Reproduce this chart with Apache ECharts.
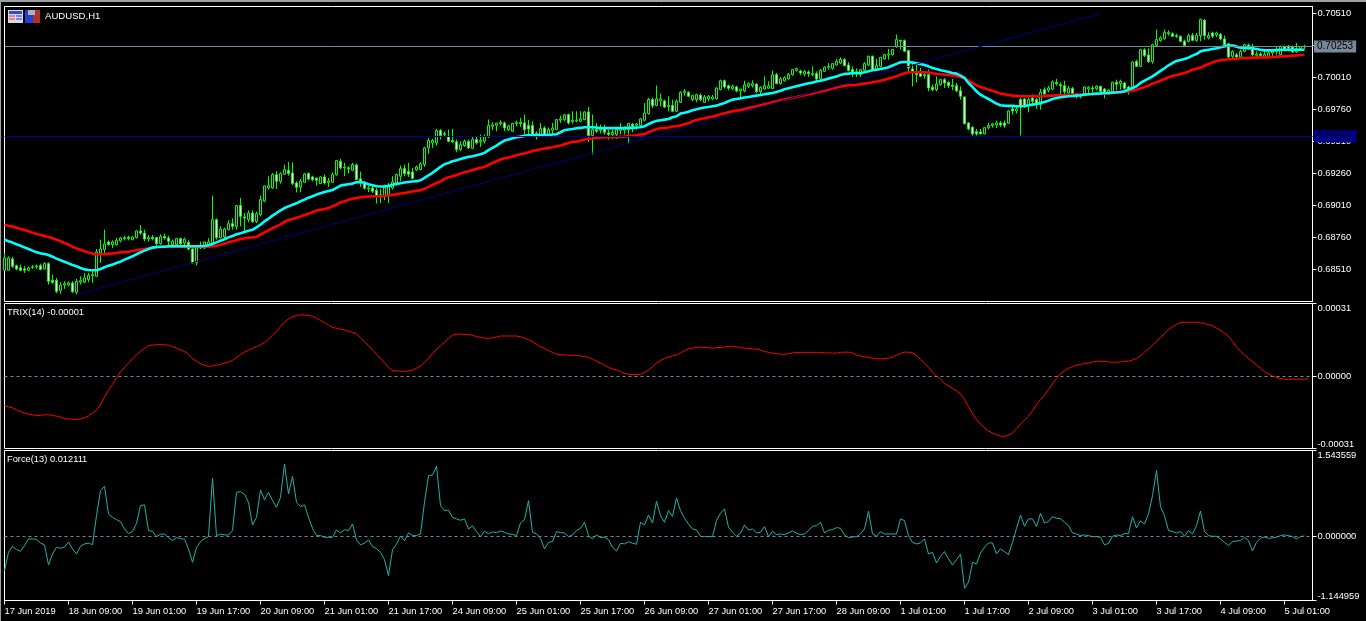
<!DOCTYPE html>
<html><head><meta charset="utf-8"><style>html,body{margin:0;padding:0;background:#000;overflow:hidden}#c{width:1366px;height:621px}</style>
<script src="https://cdn.jsdelivr.net/npm/echarts@6/dist/echarts.min.js"></script></head><body><div id="c"></div><script>
// AUDUSD H1 prices are kept in points (1 point = 0.00001)
const opens=[68505,68505,68593,68541,68525,68515,68505,68525,68533,68541,68515,68557,68426,68426,68348,68390,68390,68406,68333,68411,68411,68432,68463,68458,68640,68666,68726,68705,68705,68734,68752,68762,68744,68760,68812,68796,68749,68762,68760,68713,68768,68757,68705,68705,68752,68718,68723,68671,68562,68679,68679,68705,68697,68900,68760,68765,68822,68869,68848,69010,68921,68900,68952,68885,68939,69046,69148,69148,69252,69200,69255,69286,69265,69187,69153,69192,69260,69234,69223,69182,69234,69192,69192,69250,69357,69305,69305,69286,69328,69219,69187,69141,69148,69130,69078,69089,69094,69148,69182,69240,69299,69276,69273,69289,69292,69331,69461,69500,69500,69596,69565,69552,69518,69508,69448,69479,69510,69458,69526,69508,69513,69547,69630,69638,69651,69656,69602,69591,69651,69659,69656,69635,69635,69573,69565,69617,69565,69599,69604,69677,69682,69721,69667,69672,69669,69682,69742,69557,69604,69599,69609,69578,69565,69565,69599,69599,69604,69646,69638,69635,69677,69729,69839,69792,69828,69828,69784,69792,69747,69817,69895,69895,69838,69838,69872,69817,69843,69843,69843,69916,69986,69947,69924,69937,69906,69906,69942,69947,69960,69901,69921,69927,69924,70033,69963,69984,70000,70033,70067,70062,70039,70054,70033,70041,70000,70059,70091,70083,70109,70124,70150,70109,70072,70046,70033,70067,70109,70177,70072,70098,70156,70187,70190,70255,70302,70299,70221,70078,70052,70046,70033,70033,69934,69916,69955,69994,69973,69950,69947,69908,69859,69656,69622,69588,69585,69570,69619,69635,69640,69656,69656,69653,69765,69749,69838,69843,69799,69851,69838,69799,69916,69911,69921,69973,69955,69947,69890,69926,69882,69864,69877,69921,69929,69924,69942,69921,69890,69900,69973,69963,69968,69937,69921,70135,70098,70228,70187,70135,70262,70299,70312,70353,70353,70338,70333,70294,70294,70338,70301,70338,70457,70320,70359,70343,70346,70312,70275,70176,70189,70171,70215,70265,70254,70184,70195,70176,70176,70202,70215,70189,70254,70257,70249,70210,70236,70249];
const closes=[68601,68601,68536,68515,68505,68505,68523,68531,68538,68510,68557,68419,68411,68340,68390,68400,68406,68338,68419,68424,68445,68466,68471,68648,68671,68710,68705,68726,68739,68757,68760,68754,68765,68812,68796,68749,68760,68752,68713,68768,68757,68731,68731,68752,68713,68749,68671,68562,68679,68697,68726,68726,68900,68760,68827,68827,68869,68848,69010,68926,68913,68952,68885,68947,69057,69164,69166,69252,69200,69260,69291,69260,69182,69153,69200,69257,69218,69213,69208,69234,69187,69202,69252,69362,69305,69312,69297,69331,69214,69187,69146,69148,69122,69089,69096,69156,69161,69195,69253,69299,69260,69255,69224,69312,69336,69461,69518,69518,69596,69557,69573,69513,69508,69448,69487,69513,69461,69526,69500,69518,69547,69635,69641,69654,69659,69617,69633,69651,69661,69651,69604,69609,69557,69547,69612,69565,69604,69615,69682,69687,69719,69656,69677,69677,69687,69742,69557,69604,69591,69609,69583,69565,69583,69604,69612,69617,69651,69630,69648,69687,69734,69839,69792,69844,69844,69781,69792,69747,69825,69895,69903,69864,69869,69877,69838,69859,69864,69859,69929,69986,69937,69927,69942,69906,69921,69953,69963,69963,69901,69932,69947,69945,70033,69963,70000,70010,70036,70072,70080,70046,70059,70041,70041,70000,70067,70091,70098,70119,70137,70153,70104,70067,70052,70057,70072,70119,70177,70072,70104,70169,70190,70195,70229,70307,70294,70216,70085,70059,70033,70020,70026,69929,69916,69960,69994,69968,69947,69942,69908,69864,69651,69609,69570,69570,69570,69619,69635,69648,69656,69640,69635,69749,69749,69765,69791,69791,69838,69825,69799,69895,69882,69929,69976,69963,69947,69900,69926,69885,69869,69874,69937,69934,69921,69942,69903,69890,69911,69973,69958,69981,69926,69921,70132,70098,70228,70182,70135,70267,70307,70320,70364,70364,70333,70333,70294,70260,70338,70301,70340,70463,70338,70338,70333,70359,70312,70267,70171,70215,70171,70215,70267,70239,70189,70195,70182,70189,70202,70215,70228,70254,70234,70239,70210,70236,70252,70253];
const lows=[68505,68505,68523,68505,68497,68484,68497,68515,68515,68505,68510,68393,68400,68327,68322,68359,68380,68327,68314,68393,68406,68411,68406,68453,68562,68640,68697,68679,68697,68723,68739,68739,68739,68754,68783,68731,68728,68739,68697,68705,68744,68697,68679,68679,68697,68697,68661,68557,68544,68671,68671,68692,68697,68744,68754,68749,68817,68822,68822,68848,68796,68880,68874,68874,68926,69036,69135,69140,69140,69182,69252,69244,69171,69114,69114,69192,69208,69200,69166,69182,69174,69156,69187,69244,69292,69240,69260,69279,69208,69156,69135,69115,69109,69026,69031,69052,69031,69135,69167,69201,69240,69234,69214,69279,69286,69312,69414,69461,69479,69526,69547,69505,69500,69427,69435,69469,69453,69453,69487,69469,69495,69539,69599,69591,69635,69591,69594,69586,69630,69625,69557,69547,69547,69526,69557,69552,69557,69565,69599,69656,69669,69643,69651,69661,69661,69677,69505,69409,69578,69573,69565,69526,69531,69531,69565,69565,69495,69583,69604,69630,69669,69721,69773,69786,69786,69773,69747,69740,69740,69812,69869,69859,69825,69817,69825,69812,69825,69833,69838,69911,69924,69911,69911,69895,69851,69895,69929,69932,69890,69869,69916,69924,69921,69958,69955,69979,69994,70025,70057,70031,70020,70015,70020,69981,69994,70054,70072,70072,70104,70114,70098,70057,70015,70015,70015,70059,70098,70067,70067,70093,70150,70150,70182,70242,70229,70210,70059,69942,69973,70015,70000,69903,69903,69903,69947,69929,69929,69911,69895,69838,69643,69598,69557,69557,69565,69565,69604,69619,69617,69625,69617,69651,69721,69729,69557,69773,69739,69799,69765,69760,69877,69895,69911,69947,69877,69869,69885,69877,69848,69848,69869,69885,69890,69911,69890,69848,69877,69890,69911,69916,69916,69877,69916,70093,70093,70171,70124,70119,70254,70291,70307,70338,70327,70320,70286,70254,70286,70294,70291,70294,70307,70307,70320,70327,70301,70254,70156,70163,70163,70163,70208,70228,70176,70171,70171,70171,70171,70176,70189,70182,70215,70215,70202,70202,70215,70234];
const highs=[68640,68614,68609,68549,68549,68536,68536,68546,68549,68557,68567,68567,68471,68445,68411,68419,68419,68419,68437,68458,68484,68484,68497,68671,68744,68822,68739,68739,68757,68765,68775,68775,68770,68817,68859,68822,68780,68780,68765,68786,68791,68775,68744,68757,68760,68760,68739,68687,68687,68729,68729,68755,69088,68911,68848,68838,68895,68911,69015,69070,68952,68973,68973,68963,69088,69166,69239,69265,69278,69270,69330,69351,69348,69200,69218,69265,69270,69244,69234,69239,69252,69226,69270,69364,69375,69344,69318,69344,69339,69276,69200,69167,69167,69148,69141,69174,69187,69240,69260,69323,69331,69344,69305,69323,69349,69469,69539,69531,69609,69609,69589,69604,69609,69526,69513,69526,69526,69547,69547,69565,69565,69682,69661,69656,69677,69667,69641,69656,69674,69695,69721,69680,69669,69591,69656,69630,69620,69656,69687,69713,69724,69729,69747,69747,69747,69747,69781,69721,69656,69643,69643,69604,69604,69617,69656,69630,69656,69656,69656,69693,69812,69852,69852,69948,69885,69838,69865,69838,69838,69903,69921,69903,69877,69885,69885,69874,69874,69874,69934,69994,69994,69955,69955,69947,69921,69986,69973,69989,69963,69942,70020,69981,70065,70046,70015,70020,70046,70078,70088,70072,70067,70067,70098,70059,70078,70098,70124,70124,70156,70169,70163,70130,70098,70083,70078,70130,70182,70182,70156,70171,70195,70234,70234,70346,70302,70307,70229,70137,70111,70085,70059,70072,69955,70020,70000,70007,69981,70000,69968,69942,69864,69661,69630,69609,69609,69625,69656,69656,69674,69671,69674,69755,69786,69781,69851,69851,69851,69877,69851,69921,69934,69947,69989,70000,69973,69986,69947,69937,69890,69885,69942,69942,69947,69950,69947,69929,69921,69978,69994,69994,69978,69947,70137,70150,70234,70239,70239,70275,70385,70333,70385,70379,70364,70353,70338,70307,70353,70359,70359,70471,70468,70364,70369,70369,70359,70338,70281,70223,70202,70228,70275,70275,70273,70215,70208,70215,70215,70234,70249,70260,70260,70265,70260,70281,70254,70267];
const fastMA=[68744,68731,68721,68708,68697,68684,68671,68658,68645,68637,68632,68624,68611,68596,68583,68572,68559,68546,68536,68523,68512,68507,68505,68505,68515,68528,68541,68549,68562,68572,68588,68601,68614,68630,68645,68658,68671,68682,68687,68689,68689,68692,68692,68692,68692,68692,68692,68692,68692,68692,68695,68700,68710,68723,68736,68747,68762,68773,68786,68794,68804,68814,68822,68840,68861,68887,68908,68932,68952,68973,68991,69004,69017,69028,69044,69057,69072,69083,69096,69106,69116,69124,69132,69148,69167,69172,69177,69182,69193,69195,69188,69177,69169,69161,69159,69159,69164,69172,69180,69185,69190,69195,69198,69201,69208,69227,69247,69266,69289,69313,69333,69344,69357,69365,69375,69383,69391,69396,69404,69411,69422,69443,69461,69479,69500,69518,69526,69536,69544,69549,69555,69560,69560,69562,69562,69562,69562,69565,69568,69583,69599,69604,69609,69615,69617,69622,69622,69622,69620,69615,69615,69615,69615,69615,69615,69615,69617,69617,69620,69622,69630,69646,69661,69672,69677,69682,69687,69700,69708,69729,69736,69744,69755,69762,69770,69776,69781,69786,69791,69802,69812,69825,69838,69843,69848,69854,69859,69864,69869,69874,69880,69885,69890,69898,69908,69919,69927,69934,69942,69950,69958,69966,69971,69979,69986,69994,70002,70010,70018,70031,70039,70041,70044,70044,70046,70052,70059,70067,70072,70078,70083,70091,70104,70117,70130,70132,70132,70127,70122,70117,70109,70098,70085,70078,70067,70062,70054,70046,70041,70025,70007,69968,69937,69903,69877,69859,69843,69825,69807,69794,69791,69789,69789,69786,69786,69788,69794,69799,69804,69812,69820,69830,69843,69851,69856,69861,69864,69866,69869,69872,69877,69880,69882,69885,69887,69890,69890,69893,69895,69898,69903,69916,69929,69942,69968,69986,70002,70020,70041,70062,70083,70106,70124,70140,70148,70155,70166,70182,70194,70215,70223,70228,70234,70239,70247,70254,70260,70260,70252,70244,70241,70239,70239,70234,70228,70223,70223,70223,70226,70228,70228,70228,70228,70228,70228,70228];
const slowMA=[68861,68853,68846,68838,68827,68820,68809,68799,68788,68781,68773,68765,68755,68744,68731,68718,68705,68689,68676,68666,68653,68643,68635,68630,68630,68630,68635,68637,68640,68645,68648,68650,68656,68661,68666,68671,68676,68679,68684,68687,68689,68689,68689,68689,68689,68689,68689,68689,68689,68689,68689,68689,68692,68697,68705,68713,68723,68731,68739,68749,68755,68760,68762,68765,68783,68801,68817,68833,68848,68864,68882,68898,68906,68916,68926,68937,68947,68958,68971,68978,68984,68991,69004,69017,69036,69044,69055,69063,69070,69076,69078,69081,69083,69083,69083,69086,69089,69094,69099,69104,69109,69115,69120,69125,69130,69141,69156,69172,69187,69198,69219,69232,69240,69250,69260,69271,69279,69289,69297,69305,69312,69328,69344,69357,69370,69380,69385,69393,69404,69411,69417,69427,69437,69443,69450,69456,69461,69466,69474,69479,69490,69500,69508,69510,69516,69526,69531,69534,69539,69542,69544,69544,69547,69547,69547,69549,69555,69557,69560,69565,69570,69583,69596,69609,69615,69617,69620,69628,69630,69635,69645,69653,69669,69679,69687,69692,69700,69705,69713,69723,69731,69739,69747,69752,69757,69765,69773,69781,69786,69794,69802,69810,69817,69825,69833,69838,69846,69851,69859,69867,69872,69880,69885,69893,69901,69908,69916,69924,69932,69940,69947,69950,69950,69953,69958,69963,69968,69973,69979,69986,69994,70002,70010,70020,70033,70044,70052,70052,70052,70052,70052,70049,70044,70039,70036,70033,70031,70028,70020,70015,70005,69986,69968,69950,69937,69927,69916,69908,69895,69885,69880,69874,69869,69867,69864,69864,69864,69864,69864,69864,69866,69869,69869,69872,69872,69874,69874,69877,69877,69877,69877,69880,69880,69882,69882,69885,69887,69890,69893,69895,69898,69903,69908,69916,69926,69937,69947,69963,69973,69986,69999,70012,70023,70030,70038,70046,70057,70072,70080,70088,70103,70116,70129,70140,70145,70150,70153,70155,70158,70161,70163,70163,70166,70166,70168,70168,70168,70171,70174,70176,70176,70179,70182,70184,70187,70189];
// TRIX(14), in millionths
const trixValues=[-126,-132,-136,-145,-152,-158,-163,-166,-169,-168,-166,-166,-168,-172,-176,-182,-183,-185,-186,-183,-178,-172,-158,-146,-123,-89,-60,-36,-7,17,37,56,73,90,105,118,129,132,134,134,134,132,125,119,112,105,92,75,63,53,45,42,43,46,49,55,60,66,80,92,102,111,118,125,134,142,158,175,191,211,231,244,253,258,261,261,258,256,247,238,228,218,208,204,200,197,192,187,180,164,146,131,112,93,75,56,37,23,22,20,20,22,25,33,43,59,75,95,115,128,144,162,175,178,180,178,177,174,169,165,162,162,162,167,171,171,171,171,171,168,162,155,148,136,126,118,109,101,93,92,90,89,89,88,86,83,80,72,63,56,46,37,30,26,19,12,7,6,6,7,16,25,40,55,66,75,80,86,90,98,109,116,119,122,124,122,121,119,121,122,124,126,128,125,121,119,118,116,115,111,105,101,98,95,93,93,96,99,101,101,101,101,101,101,101,99,99,98,98,101,102,102,98,90,85,82,79,76,75,73,75,76,80,89,96,102,102,99,88,70,56,37,16,0,-14,-31,-43,-53,-64,-77,-100,-132,-160,-186,-206,-221,-235,-244,-251,-257,-258,-254,-244,-225,-206,-189,-172,-148,-123,-100,-82,-57,-34,-10,9,23,33,40,47,50,53,56,60,63,63,62,60,59,59,60,62,63,68,75,86,102,115,132,148,165,181,198,210,220,228,230,230,230,230,227,224,220,215,205,195,184,169,148,124,105,90,75,62,47,33,19,9,0,-6,-11,-14,-14,-14,-14,-14,-14,-10];
// Force(13)
const forceValues=[-0.609,-0.281,-0.173,-0.233,-0.263,-0.161,-0.042,-0.042,-0.048,-0.114,-0.149,-0.508,-0.311,-0.191,-0.209,-0.185,-0.096,-0.221,-0.311,-0.173,-0.131,-0.119,-0.143,0.376,0.824,0.902,0.406,0.346,0.305,0.269,0.137,0.054,0.09,0.239,0.556,0.568,0.108,0.096,0,0.042,0.048,-0.018,-0.072,-0.018,-0.036,-0.048,-0.221,-0.46,-0.197,-0.09,-0.036,0,1.051,0.018,0.048,0.03,0.03,0.108,0.795,0.806,0.759,0.615,0.209,0.346,0.836,0.663,0.795,0.645,0.526,0.705,1.302,0.765,1.081,0.615,0.538,0.568,0.346,0.149,0.018,0.018,-0.012,-0.012,-0.012,0.119,0.066,0.125,0.108,0.227,-0.06,-0.149,-0.114,-0.06,-0.179,-0.215,-0.281,-0.412,-0.699,-0.233,-0.137,0.012,-0.072,0.066,0.018,0.018,0.048,0.615,1.093,1.105,1.261,0.556,0.466,0.478,0.346,0.317,0.293,0.317,0.137,0.191,0.09,0,0.096,0.054,0.084,0.072,0.102,0.078,0.048,0.042,0.018,0.245,0.305,0.645,0.078,0.048,-0.03,-0.221,-0.102,-0.09,0.09,0.072,0.066,0,0.03,0.108,0.149,0.257,0.018,-0.042,0.03,-0.018,-0.012,-0.054,-0.191,-0.257,-0.119,-0.131,-0.09,-0.119,-0.137,0.257,0.209,0.388,0.245,0.633,0.376,0.257,0.466,0.364,0.693,0.466,0.329,0.227,0.137,0.119,0.006,0,0,0,0.287,0.418,0.496,0.167,0.078,0.006,0.06,0.209,0.119,0.137,0.066,0.078,0.179,0,0.096,0.036,0.048,0.036,0.066,0.102,0.06,0.036,0.048,0.108,0.185,0.197,0.257,0.066,0.114,0.125,0.161,0.149,0.03,-0.018,-0.006,0,0.048,0.137,0.454,0.048,0.006,0.09,0.048,0.048,0.048,0.048,0.317,0.287,0.018,-0.102,-0.131,-0.114,-0.042,-0.311,-0.281,-0.472,-0.352,-0.269,-0.4,-0.508,-0.412,-0.311,-0.926,-0.818,-0.46,-0.49,-0.293,-0.191,-0.114,-0.114,-0.311,-0.221,-0.269,-0.323,-0.102,0.149,0.388,0.185,0.317,0.317,0.179,0.418,0.245,0.269,0.358,0.329,0.323,0.257,0.197,0.066,0.048,0.018,0.03,0.018,0,0,-0.012,-0.149,-0.119,0.006,0.03,0.018,0.054,0.054,0.358,0.155,0.281,0.227,0.406,0.735,1.183,0.538,0.376,0.108,0.09,0.066,0.09,0.006,0.108,0.048,0.197,0.46,0.09,0.018,0.006,0.006,-0.042,-0.102,-0.161,-0.09,-0.078,-0.072,-0.012,-0.072,-0.257,-0.102,-0.03,-0.006,-0.03,-0.024,-0.012,0.018,0.03,0.018,0,-0.042,0,0.012];
const timeLabels=['17 Jun 2019','18 Jun 09:00','19 Jun 01:00','19 Jun 17:00','20 Jun 09:00','21 Jun 01:00','21 Jun 17:00','24 Jun 09:00','25 Jun 01:00','25 Jun 17:00','26 Jun 09:00','27 Jun 01:00','27 Jun 17:00','28 Jun 09:00','1 Jul 01:00','1 Jul 17:00','2 Jul 09:00','3 Jul 01:00','3 Jul 17:00','4 Jul 09:00','5 Jul 01:00'];
const priceTicks=[0.6851,0.6876,0.6901,0.6926,0.6951,0.6976,0.7001,0.7026,0.7051];
const trixTicks=[-0.00031,0,0.00031];
const forceTicks=[-1.144959,0,1.543559];
const bidLine=0.70253, levelLine=0.69552;
const trendStart=[18,0.68315], trendEnd=[274,0.7051];

const slots=328, every=16;
const categories=Array.from({length:slots},(_,i)=>String(i));
const FONT='"Liberation Sans"', FS=9.3;
const price=p=>p/100000;
const candles=opens.map((o,i)=>[price(o),price(closes[i]),price(lows[i]),price(highs[i])]);
const grids=[{left:4.5,width:1308,top:6.5,height:295},{left:4.5,width:1308,top:303.5,height:145},{left:4.5,width:1308,top:450.5,height:150}]
  .map(g=>({...g,show:true,backgroundColor:'#000',borderColor:'#fff',borderWidth:1,containLabel:false}));
const xAxis=grids.map((g,k)=>({type:'category',gridIndex:k,position:'bottom',data:categories,boundaryGap:false,
  axisLine:{show:k==2,onZero:false,lineStyle:{color:'#fff'}},
  axisTick:{show:k==2,interval:every-1,length:4,lineStyle:{color:'#fff'}},
  axisLabel:{show:k==2,interval:every-1,align:'left',margin:6,color:'#fff',fontFamily:FONT,fontSize:FS,
    formatter:(v,i)=>timeLabels[i/every]||''},
  splitLine:{show:false}}));
function yA(k,min,max,ticks,dec){return {type:'value',gridIndex:k,position:'right',min,max,scale:true,
  axisLine:{show:true,lineStyle:{color:'#fff'}},
  axisTick:{show:true,length:4,lineStyle:{color:'#fff'},customValues:ticks},
  axisLabel:{show:true,margin:5,color:'#fff',fontFamily:FONT,fontSize:FS,customValues:ticks,
    verticalAlignMaxLabel:k?'top':null,verticalAlignMinLabel:k?'bottom':null,
    formatter:v=>v.toFixed(dec)},
  splitLine:{show:false}};}
const yAxis=[yA(0,0.682609,0.705655,priceTicks,5),yA(1,-0.00031,0.00031,trixTicks,5),yA(2,-1.144959,1.543559,forceTicks,6)];
const zeroLine={silent:true,symbol:'none',animation:false,label:{show:false},
  lineStyle:{color:'#778899',width:1,type:[3,3]},data:[{yAxis:0}]};
function tag(v,bg,col){return [{coord:[0,v],lineStyle:{color:col,width:1,type:'solid'},
  label:{show:true,position:'end',distance:1.5,formatter:v.toFixed(5),color:'#000',backgroundColor:bg,
    padding:[1,3],fontFamily:FONT,fontSize:10}},{coord:[slots-1,v]}];}
const series=[
 {type:'line',xAxisIndex:0,yAxisIndex:0,data:[],z:1,silent:true,
  markLine:{silent:true,symbol:'none',animation:false,data:[
    tag(bidLine,'#778899','#778899'),
    tag(levelLine,'#000098','#000098'),
    [{coord:trendStart,lineStyle:{color:'#000080',width:1,type:'solid'},label:{show:false}},{coord:trendEnd}]
  ]}},
 {type:'candlestick',xAxisIndex:0,yAxisIndex:0,data:candles,barWidth:3,z:2,silent:true,
  itemStyle:{color:'#000',color0:'#fff',borderColor:'#00ff00',borderColor0:'#00ff00',borderColorDoji:'#00ff00',borderWidth:1}},
 {type:'line',xAxisIndex:0,yAxisIndex:0,data:slowMA.map(price),showSymbol:false,z:3,silent:true,lineStyle:{color:'#ff0000',width:2.6}},
 {type:'line',xAxisIndex:0,yAxisIndex:0,data:fastMA.map(price),showSymbol:false,z:4,silent:true,lineStyle:{color:'#00ffff',width:2.6}},
 {type:'line',xAxisIndex:1,yAxisIndex:1,data:trixValues.map(v=>v/1e6),showSymbol:false,silent:true,lineStyle:{color:'#ff0000',width:1},markLine:zeroLine},
 {type:'line',xAxisIndex:2,yAxisIndex:2,data:forceValues,showSymbol:false,silent:true,lineStyle:{color:'#20b2aa',width:1},markLine:zeroLine}
];
const txt=(x,y,s,fs)=>({type:'text',x,y,silent:true,style:{text:s,fill:'#fff',font:fs+'px '+FONT,textVerticalAlign:'middle'}});
const r=(x,y,w,h,f)=>({type:'rect',silent:true,shape:{x,y,width:w,height:h},style:{fill:f}});
const graphic=[
 r(0,0,1366,2,'#a0a0a0'),r(0,0,1,621,'#a0a0a0'),
 // chart window icons
 r(8,10,15,13,'#d8d8f0'),r(9,11,13,3,'#3050c8'),r(9,15,6,2,'#f08080'),r(16,15,6,2,'#8080f0'),r(9,18,6,2,'#f08080'),r(16,18,6,2,'#8080f0'),
 r(25,10,8,13,'#2040d0'),r(33,10,7,13,'#b03030'),r(28,10,7,5,'#b0b0b0'),
 txt(45,16.5,'AUDUSD,H1',9.6),txt(7,312.5,'TRIX(14) -0.00001',FS),txt(7,459,'Force(13) 0.012111',FS)
];
const chart=echarts.init(document.getElementById('c'),null,{renderer:'canvas'});
chart.setOption({animation:false,backgroundColor:'#000',tooltip:{show:false},grid:grids,xAxis,yAxis,series,graphic:{elements:graphic}});
</script></body></html>
